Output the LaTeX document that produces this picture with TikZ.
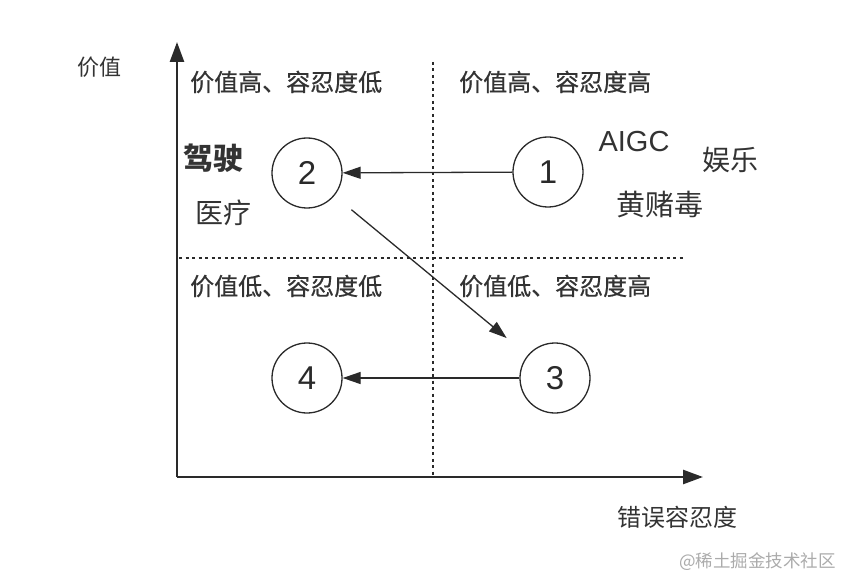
\documentclass[tikz,border=0pt]{standalone}
\usepackage{fontspec}
\setmainfont{Liberation Sans}
\newfontfamily\cjk{Noto Sans CJK SC}
\newfontfamily\cjkm[FakeBold=0.6]{Noto Sans CJK SC}
\usetikzlibrary{arrows.meta}
\definecolor{ink}{HTML}{2A2A2A}
\definecolor{txt}{HTML}{333333}
\tikzset{
  axis/.style={line width=2.6pt, draw=ink, -{Triangle[length=20pt,width=14pt]}},
  divider/.style={line width=2.4pt, draw=ink, dash pattern=on 3pt off 3.5pt},
  stage/.style={circle, draw=ink, line width=1.3pt, minimum size=70pt, inner sep=0pt, font=\fontsize{33}{33}\selectfont, text=ink},
  flow/.style={line width=1.3pt, draw=ink, -{Triangle[length=18pt,width=12pt]}},
  quad/.style={font=\cjkm\fontsize{24}{24}\selectfont, text=txt, anchor=west, inner sep=0pt},
  tag/.style={font=\cjk\fontsize{28}{28}\selectfont, text=txt, inner sep=0pt},
}
\begin{document}
\begin{tikzpicture}[x=1pt,y=-1pt]
\useasboundingbox (0,0) rectangle (842,577);
% axes
\coordinate (O) at (177,477);
\coordinate (Ytip) at (177,42);
\coordinate (Xtip) at (703,477);
\draw[axis] (O) -- (Ytip);
\draw[axis] (O) -- (Xtip);
% dividers
\coordinate (vt) at (433,62);
\coordinate (vb) at (433,475);
\coordinate (hl) at (179,258);
\coordinate (hr) at (684,258);
\draw[divider] (vt) -- (vb);
\draw[divider] (hl) -- (hr);
% axis labels
\node[font=\cjk\fontsize{22}{22}\selectfont, text=txt] (yl) at (99,67) {价值};
\node[font=\cjk\fontsize{24}{24}\selectfont, text=txt] (xl) at (677,517) {错误容忍度};
% quadrant labels
\node[quad] (q1) at (190,82) {价值高、容忍度低};
\node[quad] (q2) at (459,82) {价值高、容忍度高};
\node[quad] (q3) at (190,286) {价值低、容忍度低};
\node[quad] (q4) at (459,286) {价值低、容忍度高};
% stages
\node[stage] (s1) at (548,172) {1};
\node[stage] (s2) at (307,173) {2};
\node[stage] (s3) at (555,378) {3};
\node[stage] (s4) at (307,378) {4};
\draw[flow] (s1) -- (s2);
\draw[flow, shorten <=22pt, shorten >=27pt] (s2) -- (s3);
\draw[flow] (s3) -- (s4);
% tags
\node[tag, font=\cjk\bfseries\fontsize{30}{30}\selectfont] (t1) at (213,158) {驾驶};
\node[tag] (t2) at (223,213) {医疗};
\node[font=\fontsize{29}{29}\selectfont, text=txt, inner sep=0pt] (t3) at (634,142) {AIGC};
\node[tag] (t4) at (730,160) {娱乐};
\node[tag, font=\cjk\fontsize{29}{29}\selectfont] (t5) at (660,205) {黄赌毒};
% watermark
\node[font=\cjk\fontsize{17.5}{17.5}\selectfont, text=black!33, anchor=east, inner sep=0pt] (wm) at (836,562) {@稀土掘金技术社区};
\end{tikzpicture}
\end{document}
